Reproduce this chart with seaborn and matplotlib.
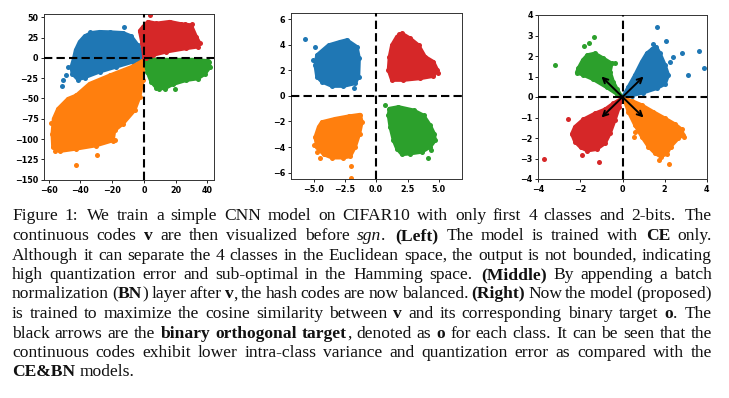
import re
import matplotlib
matplotlib.use("Agg")
import matplotlib.pyplot as plt
from matplotlib.transforms import IdentityTransform
import seaborn as sns

# ---------------- data ----------------
COLORS = {"blue": "#1f77b4", "orange": "#ff7f0e", "green": "#2ca02c", "red": "#d62728"}

# Left panel (CE): cluster outlines and stray points
LEFT_BLUE = [(-0.2, 0.4), (-3.8, 15.7), (-8.0, 26.8), (-13.2, 30.9), (-21.6, 31.8), (-28.0, 32.2),
             (-33.2, 30.9), (-37.4, 26.8), (-40.6, 19.8), (-43.1, 9.5), (-44.3, -0.8), (-45.8, -11.1),
             (-45.2, -19.4), (-41.6, -26.8), (-37.4, -24.3), (-28.0, -17.3), (-17.4, -11.1),
             (-6.9, -5.0), (-1.7, -2.1)]
LEFT_BLUE_OUT = [(-12.6, 38.4), (-51.1, -27.6), (-51.5, -34.2), (-49.0, -21.5), (-47.9, -11.1), (-34.0, 31.4)]
LEFT_RED = [(0.0, 1.2), (-1.1, 17.7), (-2.7, 33.4), (-0.6, 38.4), (2.5, 44.6), (7.8, 42.5), (16.2, 44.6),
            (23.5, 41.7), (29.8, 40.4), (33.0, 26.0), (35.1, 18.6), (34.0, 13.6), (26.7, 11.6),
            (14.1, 7.4), (5.7, 3.3), (1.5, 0.4)]
LEFT_RED_OUT = [(3.6, 52.8), (30.5, 41.7), (25.6, 41.3)]
LEFT_GREEN = [(0.4, -1.2), (14.1, -2.1), (30.9, -2.1), (40.4, -3.7), (41.8, -11.1), (38.3, -20.2),
              (34.0, -25.6), (26.7, -27.6), (18.3, -32.6), (13.0, -38.0), (7.8, -36.7), (4.6, -29.7),
              (2.1, -17.3)]
LEFT_GREEN_OUT = [(41.0, -5.0), (19.3, -38.0), (9.5, -39.0)]
LEFT_ORANGE = [(-1.1, -3.7), (-6.9, -10.3), (-21.6, -21.5), (-34.3, -31.8), (-42.7, -46.2), (-47.9, -50.3),
               (-54.2, -62.7), (-57.0, -75.1), (-57.8, -93.6), (-57.4, -110.1), (-53.2, -115.1),
               (-42.7, -112.2), (-30.1, -108.1), (-19.5, -101.9), (-18.5, -89.5), (-13.2, -81.3),
               (-5.9, -64.8), (-2.7, -48.3), (-0.6, -27.6), (-0.2, -9.1)]
LEFT_ORANGE_OUT = [(-43.1, -131.6), (-29.4, -119.2), (-18.5, -101.0), (-56.3, -114.3), (-58.5, -80.0)]

# Middle panel (CE + BN)
MID_BLUE = [(-4.73, 3.19), (-3.80, 3.97), (-2.87, 4.24), (-2.34, 4.37), (-1.54, 3.84), (-1.36, 2.93),
            (-1.41, 1.49), (-1.68, 0.97), (-2.61, 0.76), (-3.54, 0.76), (-4.34, 1.10), (-4.73, 1.49),
            (-4.87, 2.41)]
MID_BLUE_OUT = [(-5.72, 4.44), (-4.87, 3.84), (-5.05, 2.80), (-1.81, 0.65)]
MID_RED = [(1.25, 3.97), (1.65, 4.63), (2.05, 4.89), (2.71, 4.50), (3.38, 3.97), (3.91, 3.06), (4.57, 2.67),
           (4.89, 2.01), (4.57, 1.54), (3.51, 1.36), (2.18, 1.23), (1.25, 1.23), (0.98, 2.01), (1.06, 3.06)]
MID_RED_OUT = [(1.86, 4.84), (4.97, 1.80)]
MID_GREEN = [(1.06, -0.99), (1.78, -0.86), (2.98, -1.12), (3.78, -1.52), (4.31, -2.30), (4.63, -2.95),
             (4.71, -3.48), (4.31, -4.00), (3.64, -4.39), (2.71, -4.52), (2.05, -4.58), (1.65, -4.13),
             (1.38, -3.48), (1.12, -2.43), (0.98, -1.52)]
MID_GREEN_OUT = [(0.72, -0.73), (4.12, -4.84), (4.39, -4.26)]
MID_ORANGE = [(-4.34, -2.04), (-3.27, -1.78), (-2.21, -1.59), (-1.28, -1.46), (-1.14, -2.04), (-1.33, -2.95),
              (-1.68, -4.00), (-2.07, -4.73), (-2.61, -4.84), (-3.54, -4.84), (-4.20, -4.58),
              (-4.73, -4.00), (-4.87, -3.22), (-4.60, -2.43)]
MID_ORANGE_OUT = [(-5.00, -3.87), (-4.73, -4.39), (-4.52, -4.86), (-1.99, -5.52), (-2.02, -6.45)]

# Right panel (proposed)
RIGHT_BLUE = [(0.04, 0.05), (0.28, 0.50), (0.59, 1.07), (0.91, 1.72), (1.15, 2.13), (1.39, 2.33),
              (1.59, 2.46), (1.78, 2.13), (2.02, 1.56), (2.18, 1.07), (2.02, 0.63), (1.62, 0.42),
              (0.99, 0.21), (0.44, 0.07)]
RIGHT_BLUE_OUT = [(1.65, 3.40), (2.07, 2.75), (1.47, 2.59), (2.41, 1.97), (2.81, 2.16), (3.13, 1.07),
                  (3.63, 2.24), (3.87, 1.40), (2.26, 1.72)]
RIGHT_GREEN = [(-0.04, 0.02), (-0.25, 0.37), (-0.44, 0.75), (-0.59, 1.24), (-0.51, 1.64), (-0.91, 1.89),
               (-1.31, 2.13), (-1.67, 2.05), (-1.89, 1.80), (-2.10, 1.40), (-2.18, 1.19), (-1.86, 1.07),
               (-1.39, 0.86), (-0.75, 0.47), (-0.28, 0.15)]
RIGHT_GREEN_OUT = [(-3.21, 1.56), (-1.81, 2.50), (-1.58, 2.62), (-1.35, 2.91), (-0.36, 1.64)]
RIGHT_RED = [(-0.04, -0.07), (-0.44, -0.31), (-0.83, -0.60), (-1.31, -0.80), (-1.86, -1.09), (-2.26, -1.45),
             (-2.41, -1.80), (-2.26, -2.18), (-1.99, -2.46), (-1.67, -2.62), (-1.23, -2.55),
             (-0.83, -2.26), (-0.59, -1.77), (-0.36, -1.12), (-0.15, -0.47)]
RIGHT_RED_OUT = [(-3.71, -3.04), (-2.57, -1.09), (-1.94, -2.83), (-1.10, -3.15)]
RIGHT_ORANGE = [(0.07, -0.08), (0.44, -0.18), (0.91, -0.39), (1.46, -0.72), (2.02, -1.04), (2.49, -1.32),
                (2.81, -1.58), (2.89, -1.85), (2.65, -2.02), (2.29, -2.42), (2.10, -2.78), (1.81, -2.91),
                (1.55, -2.75), (1.23, -2.42), (0.91, -1.93), (0.59, -1.37), (0.28, -0.72)]
RIGHT_ORANGE_OUT = [(0.59, -1.69), (0.54, -1.93), (2.22, -3.27), (1.75, -3.07), (2.92, -1.96)]

TARGET_X = [1, -1, -1, 1]
TARGET_Y = [1, 1, -1, -1]

LEFT_XTICKS = [-60, -40, -20, 0, 20, 40]
LEFT_YTICKS = [-150, -125, -100, -75, -50, -25, 0, 25, 50]
MID_XTICKS = [-5.0, -2.5, 0.0, 2.5, 5.0]
MID_YTICKS = [-6, -4, -2, 0, 2, 4, 6]
RIGHT_XTICKS = [-4, -2, 0, 2, 4]
RIGHT_YTICKS = [-4, -3, -2, -1, 0, 1, 2, 3, 4]

CAPTION = [
    "Figure 1:  We train a simple CNN model on CIFAR10 with only first 4 classes and 2-bits.  The",
    "continuous codes *v* are then visualized before _sgn_.  *(Left)* The model is trained with *CE* only.",
    "Although it can separate the 4 classes in the Euclidean space, the output is not bounded, indicating",
    "high quantization error and sub-optimal in the Hamming space.  *(Middle)* By appending a batch",
    "normalization (*BN*) layer after *v*, the hash codes are now balanced. *(Right)* Now the model (proposed)",
    "is trained to maximize the cosine similarity between *v* and its corresponding binary target *o*.  The",
    "black arrows are the *binary* *orthogonal* *target*, denoted as *o* for each class. It can be seen that the",
    "continuous codes exhibit lower intra-class variance and quantization error as compared with the",
    "*CE&BN* models.",
]

# ---------------- figure ----------------
W, H = 729, 398
fig = plt.figure(figsize=(W / 100, H / 100), dpi=100)
fig.patch.set_facecolor("white")

def add_ax(left, top, right, bottom):
    return fig.add_axes([left / W, 1 - bottom / H, (right - left) / W, (bottom - top) / H])

ax1 = add_ax(44, 14, 214, 180)
ax2 = add_ax(291, 12.7, 462, 179)
ax3 = add_ax(538.3, 15, 706.7, 179)

def draw_cluster(ax, outline, outliers, color):
    xs = [p[0] for p in outline]
    ys = [p[1] for p in outline]
    ax.fill(xs, ys, color=color, lw=2.5, ec=color, joinstyle="round", zorder=2)
    px = xs + [p[0] for p in outliers]
    py = ys + [p[1] for p in outliers]
    sns.scatterplot(x=px, y=py, color=color, s=13, linewidth=0, ax=ax, zorder=2)

panels = [
    (ax1, [(LEFT_BLUE, LEFT_BLUE_OUT, "blue"), (LEFT_ORANGE, LEFT_ORANGE_OUT, "orange"),
           (LEFT_GREEN, LEFT_GREEN_OUT, "green"), (LEFT_RED, LEFT_RED_OUT, "red")]),
    (ax2, [(MID_BLUE, MID_BLUE_OUT, "blue"), (MID_ORANGE, MID_ORANGE_OUT, "orange"),
           (MID_GREEN, MID_GREEN_OUT, "green"), (MID_RED, MID_RED_OUT, "red")]),
    (ax3, [(RIGHT_BLUE, RIGHT_BLUE_OUT, "blue"), (RIGHT_ORANGE, RIGHT_ORANGE_OUT, "orange"),
           (RIGHT_GREEN, RIGHT_GREEN_OUT, "green"), (RIGHT_RED, RIGHT_RED_OUT, "red")]),
]
for ax, clusters in panels:
    for outline, outl, cname in clusters:
        draw_cluster(ax, outline, outl, COLORS[cname])
    ax.axhline(0, color="black", ls=(0, (4, 2)), lw=1.5, zorder=3)
    ax.axvline(0, color="black", ls=(0, (4, 2)), lw=1.5, zorder=3)

ax1.set_xlim(-63, 44.2)
ax1.set_ylim(-150.5, 54)
ax1.set_xticks(LEFT_XTICKS)
ax1.set_yticks(LEFT_YTICKS)
ax2.set_xlim(-6.8, 6.85)
ax2.set_ylim(-6.5, 6.5)
ax2.set_xticks(MID_XTICKS)
ax2.set_yticks(MID_YTICKS)
ax3.set_xlim(-4, 4)
ax3.set_ylim(-4, 4)
ax3.set_xticks(RIGHT_XTICKS)
ax3.set_yticks(RIGHT_YTICKS)

for tx, ty in zip(TARGET_X, TARGET_Y):
    ax3.annotate("", xy=(tx, ty), xytext=(0, 0),
                 arrowprops=dict(arrowstyle="->", color="black", lw=1.4, shrinkA=0, shrinkB=0,
                                 mutation_scale=9), zorder=4)

for ax in (ax1, ax2, ax3):
    ax.tick_params(labelsize=5.8, length=2.5, width=0.6, pad=1.5)
    for lab in ax.get_xticklabels() + ax.get_yticklabels():
        lab.set_fontweight("bold")
    for sp in ax.spines.values():
        sp.set_linewidth(0.7)
        sp.set_color("#333333")
    ax.set_xlabel("")
    ax.set_ylabel("")

# ---------------- caption (justified) ----------------
FONT = "Liberation Serif"
FS = 12.6
LEFT_X, RIGHT_X = 12, 712
BASE0, STEP = 220.5, 19.5

fig.canvas.draw()
renderer = fig.canvas.get_renderer()

def parse_word(word):
    parts = []
    for seg in re.split(r"(\*[^*]+\*|_[^_]+_)", word):
        if not seg:
            continue
        if seg.startswith("*"):
            parts.append((seg[1:-1], "b"))
        elif seg.startswith("_"):
            parts.append((seg[1:-1], "i"))
        else:
            parts.append((seg, "r"))
    return parts

def style_kw(st):
    return dict(fontweight="bold" if st == "b" else "normal",
                fontstyle="italic" if st == "i" else "normal")

def width_of(txt, st):
    t = fig.text(0, 0, txt, fontsize=FS, family=FONT, transform=IdentityTransform(), **style_kw(st))
    w = t.get_window_extent(renderer).width
    t.remove()
    return w

space_w = width_of("a a", "r") - 2 * width_of("a", "r")

for li, line in enumerate(CAPTION):
    raw = line.split(" ")
    words, gaps = [], []
    pending_extra = 0
    for tok in raw:
        if tok == "":
            pending_extra += 1
            continue
        if words:
            gaps.append(1.0 + 0.35 * pending_extra)
        pending_extra = 0
        words.append(parse_word(tok))
    widths = [[width_of(t, s) for t, s in w] for w in words]
    total_words = sum(sum(w) for w in widths)
    last = li == len(CAPTION) - 1
    if last or not gaps:
        k = space_w
    else:
        k = (RIGHT_X - LEFT_X - total_words) / sum(gaps)
    y = H - (BASE0 + li * STEP)
    x = LEFT_X
    for wi, (w, ws) in enumerate(zip(words, widths)):
        for (t, s), pw in zip(w, ws):
            fig.text(x, y, t, fontsize=FS, family=FONT, va="baseline", ha="left",
                     transform=IdentityTransform(), color="#111111", **style_kw(s))
            x += pw
        if wi < len(gaps):
            x += gaps[wi] * k

fig.savefig("out.png", dpi=100, facecolor="white")
